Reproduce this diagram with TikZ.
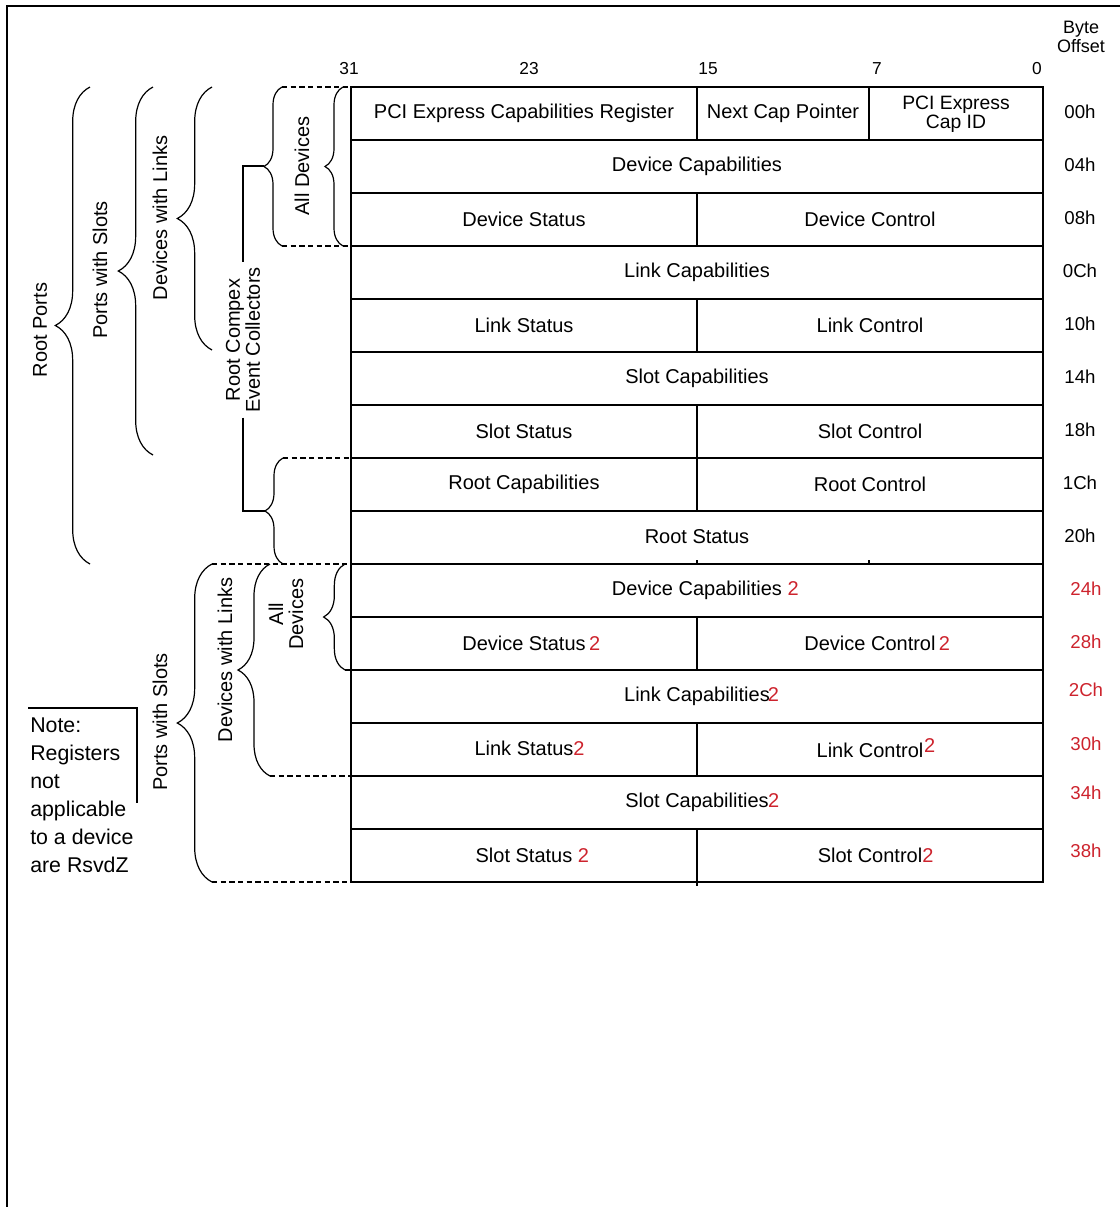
\documentclass[tikz,border=0pt]{standalone}
\usepackage{fontspec}
\setmainfont{Liberation Sans}
\usetikzlibrary{decorations.pathreplacing}

\definecolor{newred}{RGB}{205,35,45}
\newcommand{\rtwo}{\textcolor{newred}{2}}

\tikzset{
  regline/.style={line width=1.1pt},
  curly/.style={decorate, decoration={brace, amplitude=#1}, line width=0.9pt},
  guide/.style={line width=0.9pt, dash pattern=on 4pt off 2.5pt},
  side/.style={rotate=90, align=center, font=\fontsize{15}{15}\selectfont},
  offs/.style={font=\fontsize{14}{16}\selectfont},
  bit/.style={font=\fontsize{13}{15}\selectfont}
}

\begin{document}
\begin{tikzpicture}[x=0.75pt, y=-0.75pt, every node/.style={font=\fontsize{15}{16}\selectfont}]
		\useasboundingbox (0,0) rectangle (1120,1207);
		
		%%%%% FRAME %%%%%
		\draw[line width=2.2pt] (7,1207) -- (7,6) -- (1120,6);
		
		%%%%% HEADER %%%%%
		\node[bit] (b31) at (349,69) {31};
		\node[bit] (b23) at (529,69) {23};
		\node[bit] (b15) at (708,69) {15};
		\node[bit] (b7) at (877,69) {7};
		\node[bit] (b0) at (1037,69) {0};
		\node[align=center, font=\fontsize{13.5}{14}\selectfont] (bo) at (1081,37) {Byte\\Offset};
		
		%%%%% REGISTER GRID %%%%%
		\draw[regline] (351,87) rectangle (1043,882);
		\foreach \i in {1,...,14}
			\draw[regline] (351,{87+53*\i}) -- (1043,{87+53*\i});
		\foreach \i in {0,2,4,6,7,10,12,14}
			\draw[regline] (697,{87+53*\i}) -- (697,{140+53*\i});
		\draw[regline] (869,87) -- (869,140);
		\draw[regline] (697,564) -- (697,560);
		\draw[regline] (869,564) -- (869,560);
		\draw[regline] (697,882) -- (697,886);
		
		\node (pcr) at (524,113) {PCI Express Capabilities Register};
		\node (ncp) at (783,113) {Next Cap Pointer};
		\node[align=center, font=\fontsize{14.5}{14}\selectfont] (cid) at (956,114) {PCI Express\\Cap ID};
		
		\foreach \i/\txt in {1/Device Capabilities,3/Link Capabilities,5/Slot Capabilities,8/Root Status}
			\node (full\i) at (697,{87+53*\i+26}) {\txt};
		\foreach \i/\ltxt/\rtxt in {2/Device Status/Device Control,4/Link Status/Link Control,6/Slot Status/Slot Control,7/Root Capabilities/Root Control}{
			\node (left\i) at (524,{87+53*\i+26}) {\ltxt};
			\node (right\i) at (870,{87+53*\i+26}) {\rtxt};
		}
		
		\node (full9) at (697,590) {Device Capabilities\rlap{ \rtwo}};
		\node (left10) at (524,643) {Device Status\rlap{\,\rtwo}};
		\node (right10) at (870,643) {Device Control\rlap{\,\rtwo}};
		\node (full11) at (697,696) {Link Capabilities\rlap{\kern-1.5pt\rtwo}};
		\node (left12) at (524,748) {Link Status\rlap{\rtwo}};
		\node (right12) at (870,748) {Link Control\rlap{\kern0.5pt\raisebox{4pt}{\rtwo}}};
		\node (full13) at (697,802) {Slot Capabilities\rlap{\kern-0.5pt\rtwo}};
		\node (left14) at (524,855) {Slot Status\rlap{ \rtwo}};
		\node (right14) at (870,855) {Slot Control\rlap{\rtwo}};
		
		%%%%% OFFSETS %%%%%
		\foreach \i/\o in {0/00h,1/04h,2/08h,3/0Ch,4/10h,5/14h,6/18h,7/1Ch,8/20h}
			\node[offs] (off\i) at (1080,{87+53*\i+25}) {\o};
		\foreach \i/\o/\y in {9/24h/589,10/28h/642,11/2Ch/690,12/30h/744,13/34h/793,14/38h/851}
			\node[offs, text=newred] (off\i) at (1086,\y) {\o};
		
		%%%%% UPPER BRACES %%%%%
		\draw[curly=26pt] (90,564) -- (90,87);
		\node[side] (rp) at (40,330) {Root Ports};
		
		\draw[curly=26pt] (153,455) -- (153,87);
		\node[side] (pws) at (100,270) {Ports with Slots};
		
		\draw[curly=26pt] (212,350) -- (212,87);
		\node[side] (dwl) at (160,218) {Devices with Links};
		
		\draw[curly=13.5pt] (282,246) -- (282,87);
		\draw[curly=13.5pt] (343,246) -- (343,87);
		\draw[guide] (282,87) -- (351,87);
		\draw[guide] (282,246) -- (351,246);
		\node[side] (ad) at (302,166) {All Devices};
		
		\draw[curly=13.5pt] (283,564) -- (283,458);
		\draw[guide] (283,458) -- (351,458);
		
		\coordinate (adTip) at (264,166);
		\coordinate (recTip) at (265,511);
		\node[side] (rec) at (243,340) {Root Compex\\Event Collectors};
		\draw[line width=0.9pt] (adTip) -| (rec.east);
		\draw[line width=0.9pt] (rec.west) |- (recTip);
		
		%%%%% LOWER BRACES %%%%%
		\draw[curly=26pt] (212,882) -- (212,564);
		\draw[guide] (212,564) -- (351,564);
		\draw[guide] (212,882) -- (351,882);
		\node[side] (pws2) at (160,722) {Ports with Slots};
		
		\draw[curly=24pt] (270,776) -- (270,564);
		\draw[guide] (270,776) -- (351,776);
		\node[side] (dwl2) at (225,660) {Devices with Links};
		
		\draw[curly=16pt] (345,670) -- (345,564);
		\draw[guide] (345,670) -- (351,670);
		\node[side] (ad2) at (286,614) {All\\Devices};
		
		%%%%% NOTE %%%%%
		\draw[regline] (28,708) -- (137,708) -- (137,803);
		\node[align=left, anchor=north west, inner sep=0pt, font=\fontsize{16}{21}\selectfont] (note) at (30,718) {Note:\\Registers\\not\\applicable\\to a device\\are RsvdZ};
\end{tikzpicture}
\end{document}
